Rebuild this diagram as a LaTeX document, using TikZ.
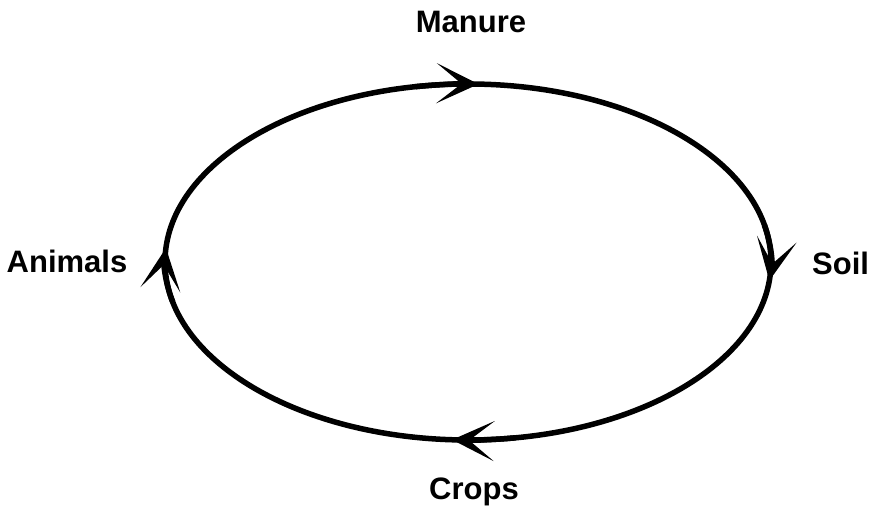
\documentclass[tikz,border=0pt]{standalone}
\usepackage{fontspec}
\setmainfont{Liberation Sans}
\usetikzlibrary{arrows.meta}
\begin{document}
\begin{tikzpicture}[x=1pt,y=1pt,
  lab/.style={font=\fontsize{31}{36}\selectfont\bfseries, inner sep=0pt},
  cyc/.style={line width=5.5pt},
  tip/.style={line width=5.5pt, -{Stealth[length=42pt,width=40pt,inset=25pt]}}]
\useasboundingbox (0,0) rectangle (871,508);
\coordinate (C) at (468,246);
\draw[cyc] (C) ellipse [x radius=303, y radius=178];
% arrowheads (clockwise flow)
\draw[tip] (C) ++(100:303 and 178) arc[start angle=100, end angle=88, x radius=303, y radius=178];
\draw[tip] (C) ++(12:303 and 178) arc[start angle=12, end angle=-6, x radius=303, y radius=178];
\draw[tip] (C) ++(-81:303 and 178) arc[start angle=-81, end angle=-93, x radius=303, y radius=178];
\draw[tip] (C) ++(193:303 and 178) arc[start angle=193, end angle=175.5, x radius=303, y radius=178];
% labels
\node[lab, anchor=base] (manure) at (471,475) {Manure};
\node[lab, anchor=base west] (soil) at (812,233) {Soil};
\node[lab, anchor=base] (crops) at (474,8) {Crops};
\node[lab, anchor=base] (animals) at (67,235) {Animals};
\end{tikzpicture}
\end{document}
